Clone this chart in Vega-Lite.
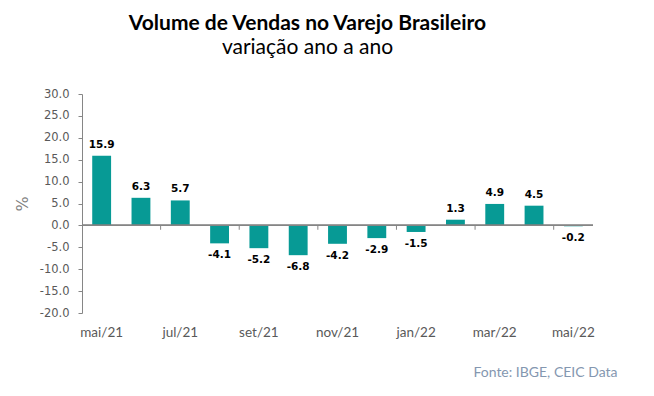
{
  "$schema": "https://vega.github.io/schema/vega-lite/v6.json",
  "autosize": "none",
  "width": 511,
  "height": 219,
  "padding": {"left": 82, "top": 94, "right": 61, "bottom": 83},
  "background": "white",
  "title": {
    "text": "Volume de Vendas no Varejo Brasileiro",
    "subtitle": "variação ano a ano",
    "anchor": "middle",
    "frame": "group",
    "dx": -30,
    "font": "Lato",
    "fontSize": 21,
    "fontWeight": "bold",
    "color": "#000000",
    "subtitleFont": "Lato",
    "subtitleFontSize": 21,
    "subtitleColor": "#000000",
    "subtitlePadding": 3,
    "offset": 30
  },
  "config": {"view": {"stroke": null}},
  "data": {
    "values": [
      {"mes": "mai/21", "valor": 15.9},
      {"mes": "jun/21", "valor": 6.3},
      {"mes": "jul/21", "valor": 5.7},
      {"mes": "ago/21", "valor": -4.1},
      {"mes": "set/21", "valor": -5.2},
      {"mes": "out/21", "valor": -6.8},
      {"mes": "nov/21", "valor": -4.2},
      {"mes": "dez/21", "valor": -2.9},
      {"mes": "jan/22", "valor": -1.5},
      {"mes": "fev/22", "valor": 1.3},
      {"mes": "mar/22", "valor": 4.9},
      {"mes": "abr/22", "valor": 4.5},
      {"mes": "mai/22", "valor": -0.2}
    ]
  },
  "transform": [
    {"calculate": "replace(format(datum.valor, '.1f'), '\u2212', '-')", "as": "rotulo"}
  ],
  "encoding": {
    "x": {
      "field": "mes",
      "type": "ordinal",
      "sort": null,
      "scale": {"paddingInner": 0, "paddingOuter": 0},
      "axis": {
        "title": "Fonte: IBGE, CEIC Data",
        "titleFont": "Lato",
        "titleFontSize": 14,
        "titleFontWeight": "normal",
        "titleColor": "#8497B0",
        "titleAnchor": "end",
        "titleAlign": "right",
        "titleBaseline": "alphabetic",
        "titleX": 535,
        "titleY": 63,
        "values": ["mai/21", "jul/21", "set/21", "nov/21", "jan/22", "mar/22", "mai/22"],
        "labelAngle": 0,
        "labelFont": "Lato",
        "labelFontSize": 13.5,
        "labelColor": "#595959",
        "labelPadding": 12,
        "ticks": false,
        "domain": false,
        "grid": false
      }
    },
    "y": {
      "field": "valor",
      "type": "quantitative",
      "scale": {"domain": [-20, 30], "nice": false},
      "axis": {
        "title": "%",
        "titleFont": "DejaVu Sans",
        "titleFontSize": 16,
        "titleFontWeight": "normal",
        "titleColor": "#7F7F7F",
        "titlePadding": 9,
        "values": [-20, -15, -10, -5, 0, 5, 10, 15, 20, 25, 30],
        "labelExpr": "replace(format(datum.value, '.1f'), '\u2212', '-')",
        "labelOverlap": false,
        "labelFont": "DejaVu Sans",
        "labelFontSize": 11.5,
        "labelColor": "#595959",
        "labelPadding": 9,
        "tickSize": 4,
        "tickColor": "#868686",
        "domainColor": "#868686",
        "grid": false
      }
    }
  },
  "layer": [
    {
      "mark": {"type": "bar", "color": "#079A95", "width": {"band": 0.48}}
    },
    {
      "mark": {"type": "rule", "color": "#868686"},
      "encoding": {"x": null, "y": {"datum": 0}}
    },
    {
      "transform": [{"filter": "indexof(['jul/21','set/21','nov/21','jan/22','mar/22','mai/22'], datum.mes) >= 0"}],
      "mark": {"type": "rule", "color": "#868686"},
      "encoding": {
        "x": {"field": "mes", "type": "ordinal", "sort": null, "bandPosition": 0},
        "y": {"datum": 0},
        "y2": {"datum": -1}
      }
    },
    {
      "transform": [{"filter": "datum.valor >= 0"}],
      "mark": {"type": "text", "baseline": "bottom", "dy": -6, "font": "DejaVu Sans", "fontSize": 10.5, "fontWeight": "bold", "color": "#000000"},
      "encoding": {
        "text": {"field": "rotulo", "type": "nominal"}
      }
    },
    {
      "transform": [{"filter": "datum.valor < 0"}],
      "mark": {"type": "text", "baseline": "top", "dy": 7, "font": "DejaVu Sans", "fontSize": 10.5, "fontWeight": "bold", "color": "#000000"},
      "encoding": {
        "text": {"field": "rotulo", "type": "nominal"}
      }
    }
  ]
}
